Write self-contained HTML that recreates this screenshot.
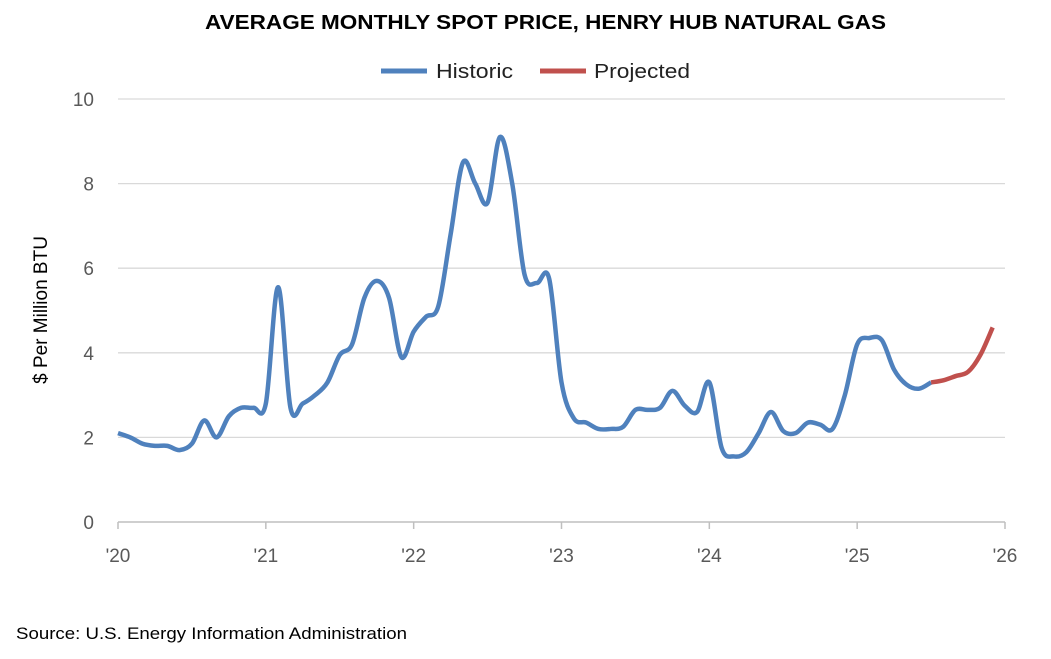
<!DOCTYPE html>
<html><head><meta charset="utf-8"><style>
body{margin:0;background:#fff;width:1051px;height:654px;overflow:hidden;font-family:"Liberation Sans",sans-serif}
</style></head><body>
<svg width="1051" height="654" xmlns="http://www.w3.org/2000/svg">
<text x="205" y="29" textLength="681" lengthAdjust="spacingAndGlyphs" font-size="20" font-weight="bold" fill="#000">AVERAGE MONTHLY SPOT PRICE, HENRY HUB NATURAL GAS</text>
<g>
<line x1="381" y1="71" x2="427" y2="71" stroke="#4f81bd" stroke-width="5"/>
<text x="436" y="78" textLength="77" lengthAdjust="spacingAndGlyphs" font-size="20" fill="#222">Historic</text>
<line x1="540" y1="71" x2="586" y2="71" stroke="#c0504d" stroke-width="5"/>
<text x="594" y="78" textLength="96" lengthAdjust="spacingAndGlyphs" font-size="20" fill="#222">Projected</text>
</g>
<g id="grid"></g>
<g id="axes"></g>
<g id="series"></g>
<text transform="translate(47,310) rotate(-90)" text-anchor="middle" font-size="19" fill="#000">$ Per Million BTU</text>
<text x="16" y="639" textLength="391" lengthAdjust="spacingAndGlyphs" font-size="17" fill="#000">Source: U.S. Energy Information Administration</text>
</svg>
<script>
const yTicks=[0,2,4,6,8,10];
const xLabels=["'20","'21","'22","'23","'24","'25","'26"];
const historic=[2.1,2.0,1.85,1.8,1.8,1.7,1.85,2.4,2.0,2.5,2.7,2.7,
2.8,5.55,2.7,2.8,3.0,3.3,3.95,4.2,5.3,5.7,5.3,3.9,
4.5,4.85,5.1,6.8,8.5,8.0,7.55,9.1,8.0,5.85,5.65,5.75,
3.3,2.45,2.35,2.2,2.2,2.25,2.65,2.65,2.7,3.1,2.75,2.6,
3.3,1.75,1.55,1.65,2.1,2.6,2.15,2.1,2.35,2.3,2.2,3.0,
4.2,4.35,4.3,3.6,3.25,3.15,3.3];
const projected=[3.3,3.35,3.45,3.55,3.95,4.6];
const projStart=66;
const X0=118,X1=1005,Y0=522,Y1=99;
const xs=m=>X0+(X1-X0)*m/72;
const ys=v=>Y0-(Y0-Y1)*v/10;
const NS="http://www.w3.org/2000/svg";
const grid=document.getElementById('grid'),axes=document.getElementById('axes'),series=document.getElementById('series');
yTicks.forEach(t=>{
 if(t>0){const l=document.createElementNS(NS,'line');
 l.setAttribute('x1',X0);l.setAttribute('x2',X1);l.setAttribute('y1',ys(t));l.setAttribute('y2',ys(t));
 l.setAttribute('stroke','#d9d9d9');l.setAttribute('stroke-width','1.3');
 
 
 grid.appendChild(l);}
 const tx=document.createElementNS(NS,'text');
 tx.setAttribute('x',94);tx.setAttribute('y',ys(t)+7);tx.setAttribute('text-anchor','end');
 tx.setAttribute('font-size','19');tx.setAttribute('fill','#595959');tx.textContent=t;
 
 
 axes.appendChild(tx);
});
const ax=document.createElementNS(NS,'line');
ax.setAttribute('x1',X0);ax.setAttribute('x2',X1);ax.setAttribute('y1',Y0);ax.setAttribute('y2',Y0);
ax.setAttribute('stroke','#bfbfbf');ax.setAttribute('stroke-width','1.5');


axes.appendChild(ax);
xLabels.forEach((lab,i)=>{
 const x=xs(i*12);
 const tk=document.createElementNS(NS,'line');
 tk.setAttribute('x1',x);tk.setAttribute('x2',x);tk.setAttribute('y1',Y0);tk.setAttribute('y2',Y0+7);
 tk.setAttribute('stroke','#bfbfbf');tk.setAttribute('stroke-width','1.5');
 
 
 axes.appendChild(tk);
 const tx=document.createElementNS(NS,'text');
 tx.setAttribute('x',x);tx.setAttribute('y',Y0+40);tx.setAttribute('text-anchor','middle');
 tx.setAttribute('font-size','19');tx.setAttribute('fill','#595959');tx.textContent=lab;
 
 
 axes.appendChild(tx);
});
function pathFor(vals,off){
 const p=vals.map((v,i)=>[xs(i+off),ys(v)]);
 let d='M'+p[0][0]+','+p[0][1];
 for(let i=0;i<p.length-1;i++){
  const a=p[i-1]||p[i],b=p[i],c=p[i+1],e=p[i+2]||c;
  const c1=[b[0]+(c[0]-a[0])/6,b[1]+(c[1]-a[1])/6],c2=[c[0]-(e[0]-b[0])/6,c[1]-(e[1]-b[1])/6];
  d+=`C${c1[0]},${c1[1]} ${c2[0]},${c2[1]} ${c[0]},${c[1]}`;
 }
 return d;
}
const h=document.createElementNS(NS,'path');
h.setAttribute('d',pathFor(historic,0));h.setAttribute('fill','none');h.setAttribute('stroke','#4f81bd');h.setAttribute('stroke-width','4.5');h.setAttribute('stroke-linejoin','round');


series.appendChild(h);
const pr=document.createElementNS(NS,'path');
pr.setAttribute('d',pathFor(projected,projStart));pr.setAttribute('fill','none');pr.setAttribute('stroke','#c0504d');pr.setAttribute('stroke-width','4.5');pr.setAttribute('stroke-linejoin','round');


series.appendChild(pr);
</script>
</body></html>
